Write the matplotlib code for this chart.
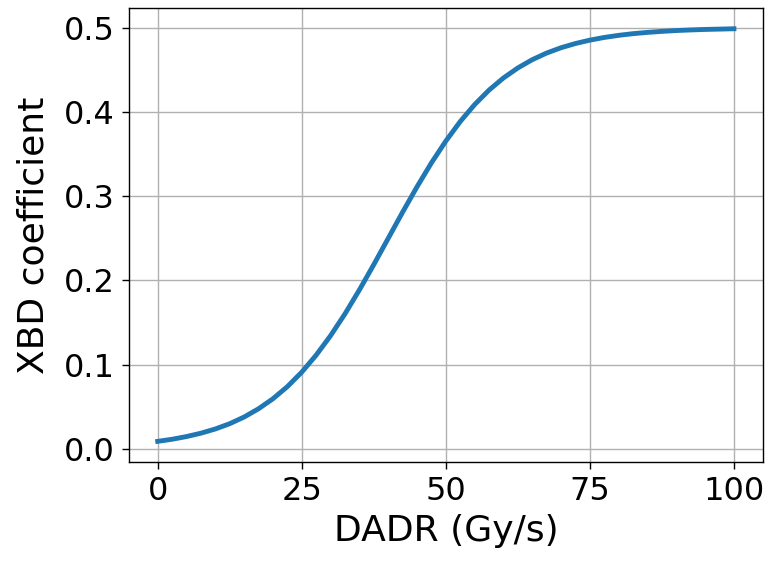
import matplotlib
matplotlib.use("Agg")
import matplotlib.pyplot as plt

# values
dadr = [0, 2.5, 5, 7.5, 10, 12.5, 15, 17.5, 20, 22.5, 25, 27.5, 30, 32.5, 35,
        37.5, 40, 42.5, 45, 47.5, 50, 52.5, 55, 57.5, 60, 62.5, 65, 67.5, 70,
        72.5, 75, 77.5, 80, 82.5, 85, 87.5, 90, 92.5, 95, 97.5, 100]
xbd = [0.0090, 0.0115, 0.0147, 0.0187, 0.0237, 0.0300, 0.0379, 0.0477, 0.0596,
       0.0740, 0.0912, 0.1114, 0.1345, 0.1604, 0.1888, 0.2189, 0.2500, 0.2811,
       0.3112, 0.3396, 0.3655, 0.3887, 0.4088, 0.4260, 0.4404, 0.4523, 0.4621,
       0.4700, 0.4763, 0.4813, 0.4853, 0.4885, 0.4910, 0.4930, 0.4945, 0.4957,
       0.4967, 0.4974, 0.4980, 0.4984, 0.4988]

fig = plt.figure(figsize=(7.72, 5.61), dpi=100)
ax = fig.add_axes([0.167, 0.1765, 0.821, 0.809])

ax.plot(dadr, xbd, color='tab:blue', linewidth=3.5)
ax.grid(True, linewidth=1.0)
ax.set_xticks([0, 25, 50, 75, 100])
ax.set_yticks([0.0, 0.1, 0.2, 0.3, 0.4, 0.5])
ax.tick_params(labelsize=23, length=5, width=1.0, pad=5)
for s in ax.spines.values():
    s.set_linewidth(1.0)
ax.set_xlabel('DADR (Gy/s)', fontsize=26, labelpad=5)
ax.set_ylabel('XBD coefficient', fontsize=26, labelpad=10)

fig.savefig('out.png', dpi=100)
